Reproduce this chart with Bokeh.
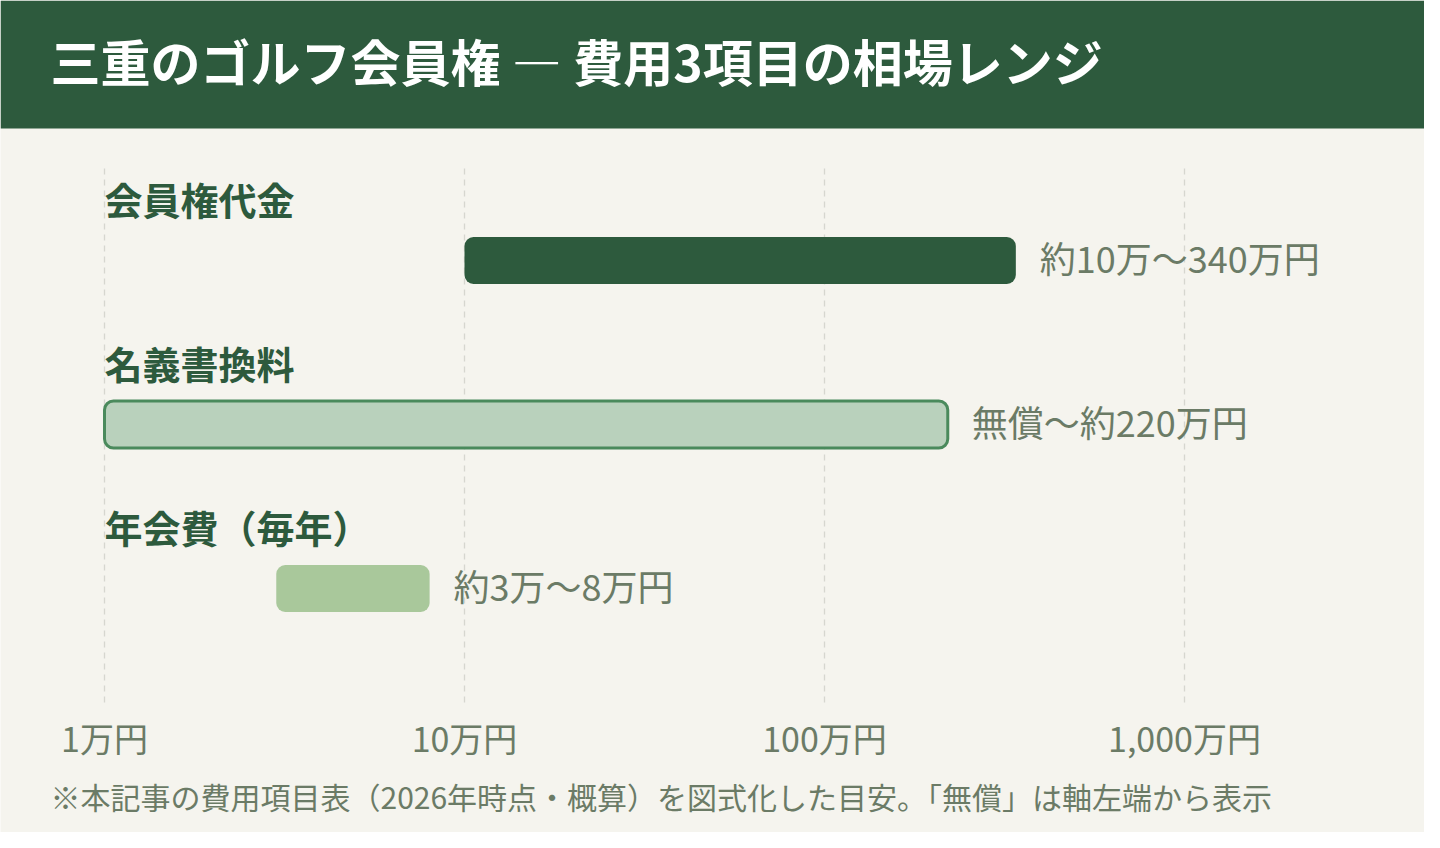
from bokeh.plotting import figure
from bokeh.models import Range1d, Label, ColumnDataSource
from bokeh.core.properties import value
from bokeh.embed import file_html
from bokeh.resources import INLINE

# ---- data ----
categories = ["会員権代金", "名義書換料", "年会費（毎年）"]
low_values = [10, 1, 3]          # 万円 (名義書換料: 無償 -> drawn from axis left end = 1)
high_values = [340, 220, 8]      # 万円
value_labels = ["約10万〜340万円", "無償〜約220万円", "約3万〜8万円"]
tick_values = [1, 10, 100, 1000]
tick_labels = ["1万円", "10万円", "100万円", "1,000万円"]
title_text = "三重のゴルフ会員権 ― 費用3項目の相場レンジ"
note_text = "※本記事の費用項目表（2026年時点・概算）を図式化した目安。「無償」は軸左端から表示"

# ---- styles ----
FONT = "Noto Sans CJK JP"
BG = "#f5f4ee"
DARK = "#2d5a3d"
TEXT_SUB = "#6b7b66"
fills = ["#2d5a3d", "#b9d1bc", "#a9c89b"]
lines = ["#2d5a3d", "#4a8a5c", "#a9c89b"]
line_widths = [0, 3, 0]

W, H = 1424, 832
DECADE_PX = 360.0
ORIGIN_PX = 104.0  # screen x of value 1 within the frame
x_start = 10 ** (-ORIGIN_PX / DECADE_PX)
x_end = 10 ** ((W - ORIGIN_PX) / DECADE_PX)

p = figure(width=W, height=H, x_axis_type="log",
           x_range=Range1d(x_start, x_end),
           y_range=Range1d(H, 0),
           output_backend="svg", toolbar_location=None,
           min_border=0, min_border_left=0, min_border_right=0,
           min_border_top=0, min_border_bottom=0)
p.axis.visible = False
p.grid.visible = False
p.outline_line_color = None
p.background_fill_color = BG
p.border_fill_color = BG

# title band
p.quad(left=x_start, right=x_end, top=0, bottom=128, fill_color=DARK, line_color=None)

# row layout (pixel rows)
row_y = [260 + 164 * i for i in range(len(categories))]
label_y = [y - 58 for y in row_y]

# dashed gridlines
p.segment(x0=tick_values, x1=tick_values, y0=[168] * 4, y1=[706] * 4,
          line_color="#d6d6cf", line_width=1.3, line_dash="6 5")

src = ColumnDataSource(dict(low=low_values, high=high_values, y=row_y,
                            fill=fills, line=lines, lw=line_widths,
                            cat=categories, ly=label_y, vl=value_labels,
                            origin=[1] * len(categories)))

p.hbar(y="y", left="low", right="high", height=47, source=src,
       fill_color="fill", line_color="line", line_width="lw",
       border_radius=9)

p.text(x="origin", y="ly", text="cat", source=src, y_offset=-4,
       text_font=value(FONT), text_font_style="bold", text_font_size="38px",
       text_color=DARK, text_align="left", text_baseline="middle")

p.text(x="high", y="y", text="vl", source=src, x_offset=24, y_offset=-4,
       text_font=value(FONT), text_font_size="36px",
       text_color=TEXT_SUB, text_align="left", text_baseline="middle")

p.text(x=tick_values, y=[740] * 4, text=tick_labels, y_offset=-3,
       text_font=value(FONT), text_font_size="34px",
       text_color=TEXT_SUB, text_align="center", text_baseline="middle")

p.add_layout(Label(x=50, y=H - 59, x_units="screen", y_units="screen",
                   text=title_text, text_font=FONT, text_font_style="bold",
                   text_font_size="50px", text_color="white",
                   text_baseline="middle", text_align="left"))

p.add_layout(Label(x=50, y=H - 795, x_units="screen", y_units="screen",
                   text=note_text, text_font=FONT, text_font_size="30px",
                   text_color=TEXT_SUB, text_baseline="middle", text_align="left"))

open("out.html", "w").write(file_html(p, INLINE))
